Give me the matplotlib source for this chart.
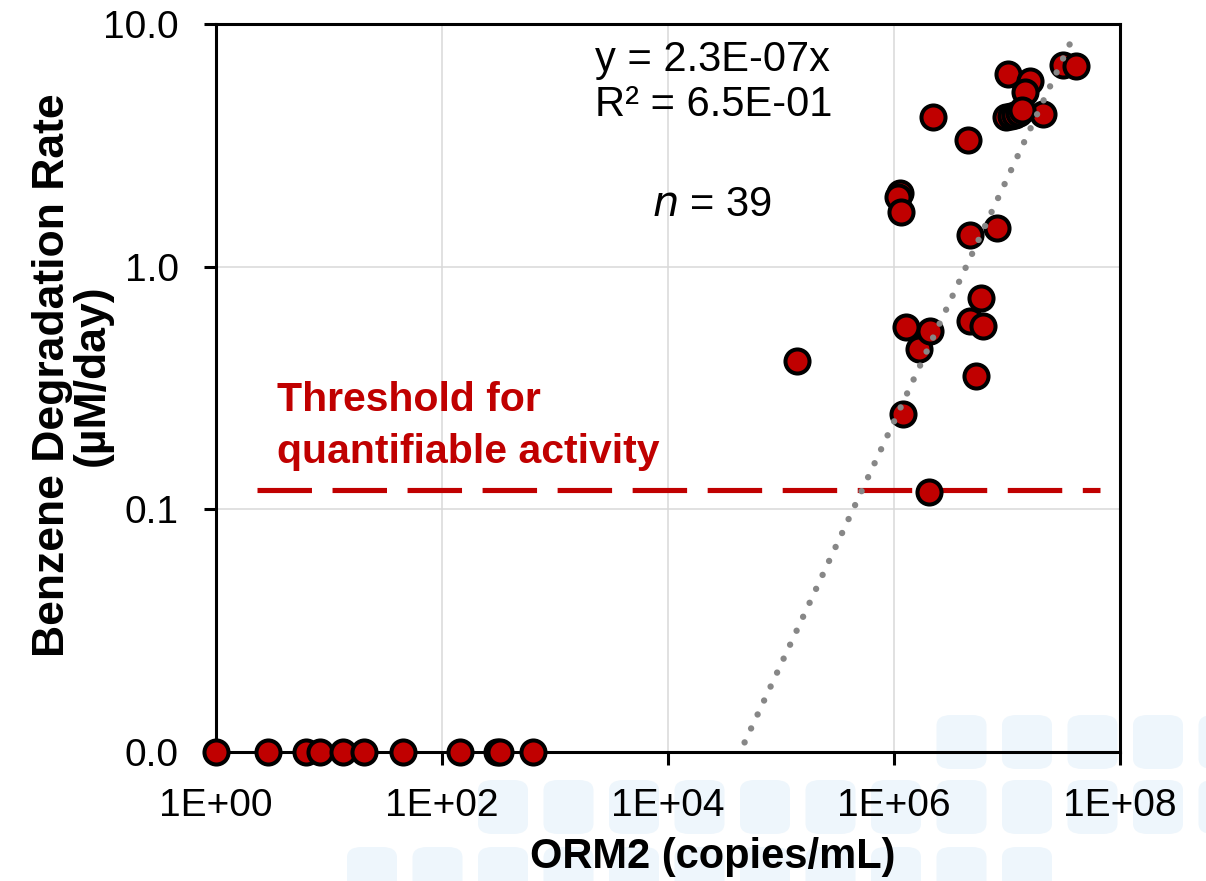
import matplotlib
matplotlib.use("Agg")
import matplotlib.pyplot as plt
import numpy as np
from matplotlib.patches import FancyBboxPatch
from matplotlib.ticker import FixedLocator, FuncFormatter, NullLocator

plt.rcParams["font.family"] = ["Liberation Sans", "DejaVu Sans"]

# ORM2 gene copies (copies/mL) and benzene degradation rate (uM/day)
# rate 0 = no quantifiable activity, shown on the bottom of the axis
orm2_copies = [
    1, 2.9, 6.3, 8.3, 13.4, 20.5, 45, 144, 305, 326, 634,
    1.38e5, 1.21e6, 2.04e6, 1.67e6, 2.08e6, 1.28e6, 5.32e6, 4.71e6, 6.17e6,
    5.85e6, 4.71e6, 8.11e6, 1.13e6, 1.08e6, 1.15e6, 2.2e6, 4.55e6, 1.03e7,
    1.60e7, 1.44e7, 3.15e7, 4.08e7, 2.07e7, 9.8e6, 1.08e7, 1.18e7, 1.28e7,
    1.36e7,
]
benzene_rate = [
    0, 0, 0, 0, 0, 0, 0, 0, 0, 0, 0,
    0.408, 0.246, 0.118, 0.458, 0.542, 0.565, 0.354, 0.596, 0.568,
    0.743, 1.35, 1.44, 2.02, 1.94, 1.68, 4.13, 3.33, 6.21,
    5.84, 5.27, 6.78, 6.71, 4.26, 4.14, 4.18, 4.23, 4.31,
    4.43,
]

slope = 2.3e-7          # trendline y = 2.3E-07x
r_squared = 0.65
threshold = 0.12        # quantifiable activity threshold
threshold_span = [2.3, 6.6e7]
trend_span = [1, 3.8e7]

x_limits = [1, 1e8]
y_limits = [0.01, 10]
x_ticks = [1, 1e2, 1e4, 1e6, 1e8]
y_ticks = [0.01, 0.1, 1, 10]

RED = "#C00000"


def add_watermark(fig):
    """Faint rounded squares from the slide background"""
    W, H = 1206, 881
    rows = [(715, range(9, 14)), (780, range(2, 14)), (847, range(0, 11))]
    for top, cols in rows:
        for k in cols:
            x0 = 347 + 65.5 * k
            fig.patches.append(
                FancyBboxPatch(
                    (x0 / W, 1 - (top + 54) / H),
                    50 / W,
                    54 / H,
                    boxstyle="round,pad=0,rounding_size=0.012",
                    transform=fig.transFigure,
                    facecolor="#eef6fc",
                    edgecolor="none",
                    zorder=-10,
                )
            )


fig = plt.figure(figsize=(12.06, 8.81), dpi=100)
fig.patch.set_facecolor("white")
add_watermark(fig)

ax = fig.add_axes([216 / 1206, 1 - 752 / 881, 904 / 1206, 728 / 881])
ax.set_facecolor("none")
ax.set_xscale("log")
ax.set_yscale("log")
ax.set_xlim(x_limits)
ax.set_ylim(y_limits)

x = np.array(orm2_copies)
y = np.array(benzene_rate)
y_plot = np.where(y > 0, y, y_limits[0])

# threshold line
ax.plot(
    threshold_span,
    [threshold, threshold],
    color=RED,
    lw=3.7,
    linestyle=(0, (10.6, 4.0)),
    dash_capstyle="butt",
    zorder=3,
)

ax.scatter(
    x,
    y_plot,
    s=300,
    color=RED,
    edgecolors="black",
    linewidths=2.9,
    zorder=5,
    clip_on=False,
)

# linear trendline through origin (straight on log-log)
tx = np.array(trend_span)
ax.plot(
    tx,
    slope * tx,
    color="#878787",
    lw=4.6,
    linestyle=(0, (0.01, 2.4)),
    dash_capstyle="round",
    zorder=6,
)

ax.xaxis.set_major_locator(FixedLocator(x_ticks))
ax.yaxis.set_major_locator(FixedLocator(y_ticks))
ax.xaxis.set_minor_locator(NullLocator())
ax.yaxis.set_minor_locator(NullLocator())
ax.xaxis.set_major_formatter(
    FuncFormatter(lambda v, p: "1E+%02d" % int(round(np.log10(v))))
)
ax.yaxis.set_major_formatter(
    FuncFormatter(lambda v, p: "%.1f" % v if v >= 0.1 else "0.0")
)
ax.tick_params(axis="both", direction="out", length=9, width=2.2,
               labelsize=28, color="black")
ax.tick_params(axis="x", pad=17)
ax.tick_params(axis="y", pad=18)

ax.grid(True, which="major", color="#d9d9d9", lw=1.1)
ax.set_axisbelow(True)
for sp in ax.spines.values():
    sp.set_linewidth(2.2)
    sp.set_color("black")
    sp.set_zorder(4)

# axis titles
ax.text(0.55, -0.144, "ORM2 (copies/mL)", transform=ax.transAxes,
        fontsize=30, fontweight="bold", ha="center", va="center")
ax.text(-0.159, 0.518, "Benzene Degradation Rate\n(µM/day)",
        transform=ax.transAxes, fontsize=32, fontweight="bold",
        rotation=90, ha="center", va="center", linespacing=0.98,
        multialignment="center")

ax.text(0.419, 0.9505, "y = %.1E" % slope + "x", transform=ax.transAxes,
        fontsize=30, va="center", ha="left")
ax.text(0.419, 0.8887, "R² = %.1E" % r_squared, transform=ax.transAxes,
        fontsize=30, va="center", ha="left")
ax.text(0.482, 0.7514, "$\\it{n}$ = %d" % len(orm2_copies),
        transform=ax.transAxes, fontsize=30, va="center", ha="left")

ax.text(0.0675, 0.4835, "Threshold for", transform=ax.transAxes,
        fontsize=29.5, fontweight="bold", color=RED, va="center", ha="left")
ax.text(0.0675, 0.412, "quantifiable activity", transform=ax.transAxes,
        fontsize=29.5, fontweight="bold", color=RED, va="center", ha="left")

plt.savefig("out.png", dpi=100)
print("saved out.png")
